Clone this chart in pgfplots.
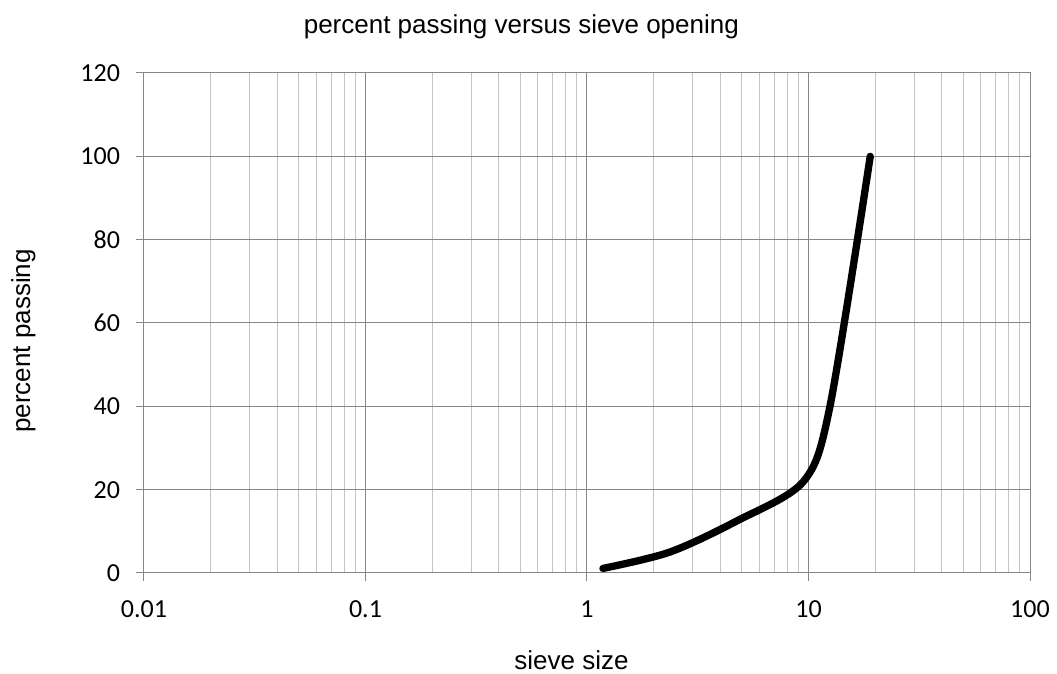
\documentclass[border=0pt]{standalone}
\usepackage{pgfplots}
\pgfplotsset{compat=1.18}
\usepackage{fontspec}
\setmainfont{Liberation Sans}
\newfontfamily\tickfont{Carlito}
\definecolor{majgrid}{HTML}{878787}
\definecolor{mingrid}{HTML}{C4C4C4}
\begin{document}
\begin{tikzpicture}
\path[use as bounding box] (0pt,0pt) rectangle (792.75pt,505.5pt);
\begin{axis}[
  at={(108pt,75.75pt)}, anchor=south west,
  scale only axis, width=664.5pt, height=375pt,
  xmode=log, xmin=0.01, xmax=100, ymin=0, ymax=120,
  xtick={0.01,0.1,1,10,100}, xticklabels={0.01,0.1,1,10,100},
  ytick={0,20,40,60,80,100,120},
  grid=both,
  major grid style={majgrid, line width=0.75pt},
  minor grid style={mingrid, line width=0.75pt},
  axis line style={majgrid, line width=0.75pt},
  tick align=outside, xtick pos=bottom, ytick pos=left,
  major tick length=6pt, minor tick length=0pt,
  tick style={majgrid, line width=0.75pt},
  tick label style={font=\tickfont\fontsize{19.5}{23}\selectfont},
  /pgf/number format/assume math mode=true,
  xticklabel style={yshift=-11pt},
  yticklabel style={xshift=-8.5pt},
  clip=false,
]
\addplot[black, line width=5.5pt, line cap=round, line join=round, smooth, tension=0.5] coordinates {
  (1.18,1.1) (2.36,5) (4.75,12.5) (9.5,22) (12.5,40) (19,100)
};
\end{axis}
\node[font=\fontsize{19.5}{23}\selectfont, anchor=base, inner sep=0pt] at (391pt,480.5pt) {percent passing versus sieve opening};
\node[font=\fontsize{19.5}{23}\selectfont, rotate=90, anchor=base, inner sep=0pt] at (22.5pt,249.75pt) {percent passing};
\node[font=\fontsize{19.5}{23}\selectfont, anchor=base, inner sep=0pt] at (428.6pt,3pt) {sieve size};
\end{tikzpicture}
\end{document}
